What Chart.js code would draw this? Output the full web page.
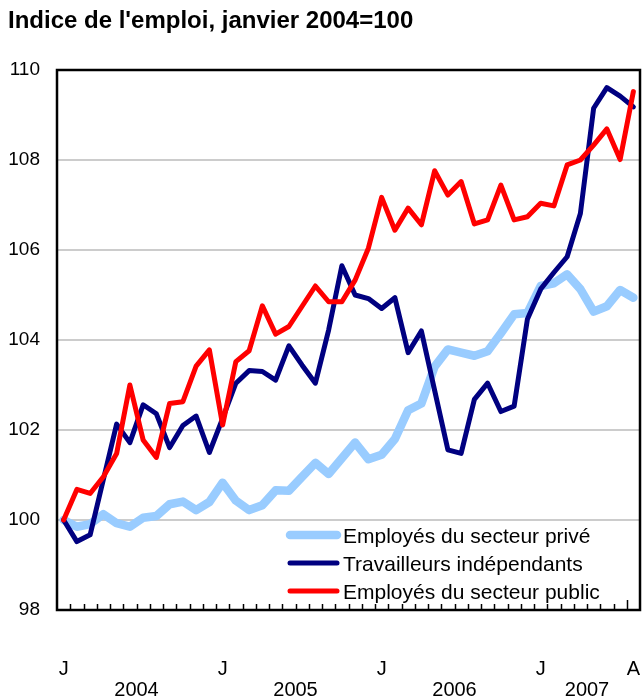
<!DOCTYPE html>
<html>
<head>
<meta charset="utf-8">
<script src="https://cdn.jsdelivr.net/npm/chart.js@4/dist/chart.umd.min.js"></script>
<style>
  html, body { margin: 0; padding: 0; background: #fff; }
  #wrap { width: 642px; height: 698px; }
</style>
</head>
<body>
<div id="wrap"><canvas id="emploiChart" width="642" height="698"></canvas></div>
<script>
// Months, January 2004 to August 2007
const periods = [
  "2004-01", "2004-02", "2004-03", "2004-04", "2004-05", "2004-06", "2004-07", "2004-08", "2004-09", "2004-10", "2004-11", "2004-12",
  "2005-01", "2005-02", "2005-03", "2005-04", "2005-05", "2005-06", "2005-07", "2005-08", "2005-09", "2005-10", "2005-11", "2005-12",
  "2006-01", "2006-02", "2006-03", "2006-04", "2006-05", "2006-06", "2006-07", "2006-08", "2006-09", "2006-10", "2006-11", "2006-12",
  "2007-01", "2007-02", "2007-03", "2007-04", "2007-05", "2007-06", "2007-07", "2007-08"
];

// Index values (janvier 2004 = 100)
const prive = [
  100, 99.85, 99.91, 100.13, 99.93, 99.85, 100.05, 100.09, 100.35, 100.41, 100.22, 100.4,
  100.83, 100.43, 100.22, 100.33, 100.66, 100.65, 100.96, 101.27, 101.02, 101.37, 101.72, 101.35,
  101.45, 101.8, 102.44, 102.59, 103.41, 103.79, 103.72, 103.65, 103.75, 104.15, 104.57, 104.6,
  105.2, 105.26, 105.46, 105.13, 104.63, 104.75, 105.11, 104.94
];
const independants = [
  100, 99.52, 99.67, 100.9, 102.13, 101.72, 102.56, 102.36, 101.61, 102.1, 102.31, 101.5,
  102.26, 103.04, 103.32, 103.3, 103.11, 103.87, 103.44, 103.04, 104.22, 105.65, 105.0, 104.92,
  104.7, 104.94, 103.72, 104.2, 102.88, 101.56, 101.48, 102.68, 103.04, 102.41, 102.53, 104.46,
  105.13, 105.5, 105.85, 106.81, 109.15, 109.61, 109.42, 109.18
];
const public_ = [
  100, 100.68, 100.59, 100.96, 101.48, 103.0, 101.78, 101.39, 102.59, 102.63, 103.42, 103.78,
  102.11, 103.52, 103.76, 104.76, 104.13, 104.3, 104.75, 105.2, 104.85, 104.85, 105.33, 106.04,
  107.17, 106.44, 106.93, 106.56, 107.76, 107.22, 107.52, 106.58, 106.67, 107.44, 106.67, 106.74,
  107.04, 106.98, 107.89, 108.0, 108.33, 108.69, 108.01, 109.52
];

const seriesNames = ["Employés du secteur privé", "Travailleurs indépendants", "Employés du secteur public"];
const seriesColors = ["#99ccff", "#000080", "#ff0000"];
const seriesWidths = [8.5, 5, 5];

// Month letters shown under the axis
const tickIndex = [0, 12, 24, 36, 43];
const tickText = ["J", "J", "J", "J", "A"];
const years = ["2004", "2005", "2006", "2007"];

const title = "Indice de l'emploi, janvier 2004=100";

Chart.defaults.font.family = "'Liberation Sans', Arial, sans-serif";
Chart.defaults.color = "#000";

// Title, frame, small month ticks, year labels and legend
const decor = {
  id: "decor",
  beforeDraw(chart) {
    const ctx = chart.ctx;
    ctx.save();
    ctx.fillStyle = "#fff";
    ctx.fillRect(0, 0, chart.width, chart.height);
    ctx.restore();
  },
  afterDraw(chart) {
    const { ctx, chartArea: a, scales } = chart;
    const x = scales.x;
    ctx.save();

    // frame
    ctx.strokeStyle = "#000";
    ctx.lineWidth = 2.5;
    ctx.strokeRect(a.left, a.top, a.right - a.left, a.bottom - a.top);

    // small ticks between months, pointing up
    ctx.lineWidth = 1.5;
    for (let i = 0; i < periods.length - 1; i++) {
      const xx = Math.round((x.getPixelForValue(i) + x.getPixelForValue(i + 1)) / 2) + 0.5;
      const len = i === periods.length - 2 ? 10 : 6;
      ctx.beginPath();
      ctx.moveTo(xx, a.bottom);
      ctx.lineTo(xx, a.bottom - len);
      ctx.stroke();
    }

    // year labels, centred under the months of each year
    ctx.fillStyle = "#000";
    ctx.font = "20px 'Liberation Sans', Arial, sans-serif";
    ctx.textAlign = "center";
    ctx.textBaseline = "middle";
    years.forEach((yr) => {
      const idx = periods.map((p, i) => (p.startsWith(yr) ? i : -1)).filter((i) => i >= 0);
      const cx = (x.getPixelForValue(idx[0]) + x.getPixelForValue(idx[idx.length - 1])) / 2;
      ctx.fillText(yr, cx, 690);
    });

    // title
    ctx.font = "bold 24px 'Liberation Sans', Arial, sans-serif";
    ctx.textAlign = "left";
    ctx.fillText(title, 8, 21);

    // legend
    ctx.font = "21px 'Liberation Sans', Arial, sans-serif";
    ctx.lineCap = "round";
    const rows = [535, 563, 591];
    seriesNames.forEach((name, k) => {
      ctx.strokeStyle = seriesColors[k];
      ctx.lineWidth = seriesWidths[k];
      ctx.beginPath();
      ctx.moveTo(290, rows[k]);
      ctx.lineTo(337, rows[k]);
      ctx.stroke();
      ctx.fillStyle = "#000";
      ctx.fillText(name, 343, rows[k] + 2);
    });

    ctx.restore();
  }
};

const datasets = [prive, independants, public_].map((vals, k) => ({
  label: seriesNames[k],
  data: vals,
  borderColor: seriesColors[k],
  borderWidth: seriesWidths[k],
  borderJoinStyle: "round",
  borderCapStyle: "round",
  pointRadius: 0,
  tension: 0,
  fill: false,
  order: 3 - k,
}));

new Chart(document.getElementById("emploiChart"), {
  type: "line",
  data: { labels: periods, datasets: datasets },
  options: {
    responsive: false,
    animation: false,
    devicePixelRatio: 1,
    layout: { padding: { left: 0, right: 2, top: 70, bottom: 0 } },
    plugins: {
      legend: { display: false },
      tooltip: { enabled: false },
      title: { display: false },
    },
    scales: {
      x: {
        type: "category",
        offset: true,
        grid: { display: false, drawTicks: false },
        border: { display: false },
        ticks: {
          autoSkip: false,
          maxRotation: 0,
          padding: 47,
          font: { size: 20 },
          callback: (val, i) => {
            const k = tickIndex.indexOf(i);
            return k >= 0 ? tickText[k] : "";
          },
        },
        afterFit: (s) => {
          s.height = 88;
          s.paddingLeft = 0;
          s.paddingRight = 0;
        },
      },
      y: {
        min: 98,
        max: 110,
        grid: {
          drawTicks: false,
          lineWidth: 2,
          color: (c) => (c.tick && (c.tick.value === 98 || c.tick.value === 110) ? "rgba(0,0,0,0)" : "#cccccc"),
        },
        border: { display: false },
        ticks: { stepSize: 2, padding: 17, font: { size: 19 } },
        afterFit: (s) => {
          s.width = 57;
          s.paddingTop = 0;
          s.paddingBottom = 0;
        },
      },
    },
  },
  plugins: [decor],
});
</script>
</body>
</html>
